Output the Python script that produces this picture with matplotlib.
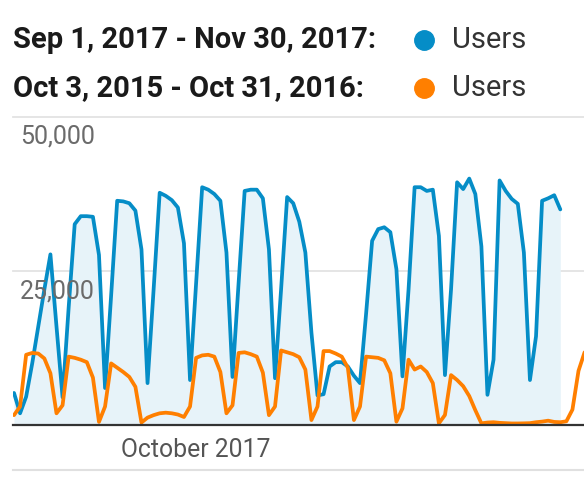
#!/usr/bin/env python3
"""Users per day, Sep-Nov 2017 against Oct 2015 onwards (Analytics style line chart)."""

import numpy as np
import matplotlib
matplotlib.use("Agg")
import matplotlib.pyplot as plt
from matplotlib.lines import Line2D

# --- data -------------------------------------------------------------
current_label = "Sep 1, 2017 - Nov 30, 2017:"
previous_label = "Oct 3, 2015 - Oct 31, 2016:"
metric_name = "Users"

# daily users, Sep 1 2017 .. Nov 30 2017
users_current = [
    5200, 1900, 4600, 10000, 16000, 22000, 27700, 16000, 4500, 19000,
    32600, 33900, 33900, 33800, 27600, 6000, 21000, 36400, 36300, 36000,
    34800, 28500, 6800, 22000, 37700, 37200, 36500, 35300, 29500, 7300,
    23000, 38600, 38200, 37500, 36400, 28000, 7800, 23000, 38000, 38200,
    38200, 36800, 28500, 7600, 22000, 37000, 36000, 33000, 28000, 15000,
    4800, 5000, 9500, 10200, 10200, 9500, 8000, 6800, 18000, 29900,
    31800, 32100, 31300, 25300, 7900, 22000, 38600, 38600, 38000, 38200,
    30700, 8100, 22000, 39400, 38300, 40000, 37500, 29000, 4900, 10600,
    39700, 38000, 36700, 35900, 28000, 7300, 14400, 36400, 36800, 37300,
    35000,
]

# daily users from Oct 3 2015 (only the first days fall inside the view)
users_previous = [
    1600, 3000, 11400, 11700, 11600, 10800, 8400, 1900, 3200, 11100,
    10900, 10600, 10200, 7700, 500, 3000, 10000, 9300, 8600, 7800,
    6200, 400, 1200, 1600, 1900, 2000, 1900, 1700, 1300, 3000,
    10900, 11300, 11400, 11100, 8600, 1900, 3200, 11700, 11800, 11500,
    11100, 8500, 1600, 3000, 12100, 11800, 11500, 11000, 9000, 800,
    3000, 12000, 12000, 11600, 11100, 9300, 800, 3000, 11100, 11000,
    10900, 10500, 8400, 540, 2700, 10600, 9000, 9500, 8600, 6800,
    270, 1630, 8100, 7300, 6300, 4700, 2400, 270, 400, 450,
    350, 300, 250, 250, 270, 300, 450, 550, 700, 500,
    450, 600, 2500, 8800, 11800,
]

y_ticks = [25000, 50000]
y_tick_labels = ["25,000", "50,000"]
x_tick_day = 30
x_tick_label = "October 2017"

# --- style ------------------------------------------------------------
BLUE = "#058DC7"
ORANGE = "#FF7F00"
FILL = "#E7F3F9"
GRID = "#E3E3E3"
TICK_TXT = "#6B6B6B"

plt.rcParams["font.family"] = ["Roboto", "DejaVu Sans"]

W, H = 584, 480
fig = plt.figure(figsize=(W / 100, H / 100), dpi=100)

# axes frame in pixels: left 13, right 584, baseline y=425, 50k at y=117
ax = fig.add_axes([13 / W, (H - 425) / H, (W - 13) / W, (425 - 117) / H])
ax.set_facecolor("none")
for sp in ax.spines.values():
    sp.set_visible(False)

day_cur = np.arange(len(users_current))
day_prev = np.arange(len(users_previous))

ax.fill_between(day_cur, users_current, 0, color=FILL, lw=0, zorder=1)
for yt in y_ticks:
    ax.axhline(yt, color=GRID, lw=1.3, zorder=0.5, clip_on=False)
ax.plot(day_cur, users_current, color=BLUE, lw=2.7,
        solid_joinstyle="round", solid_capstyle="round", zorder=3)
ax.plot(day_prev, users_previous, color=ORANGE, lw=2.7,
        solid_joinstyle="round", solid_capstyle="round", zorder=4)
ax.axhline(0, color="#333333", lw=1.6, zorder=5, clip_on=False)

px_per_day = 6.07
ax.set_xlim(-1 / px_per_day, (W - 14) / px_per_day)
ax.set_ylim(0, 50000)
ax.set_xticks([])
ax.set_yticks([])

for yt, lab in zip(y_ticks, y_tick_labels):
    ax.annotate(lab, xy=(0, yt), xycoords=("axes fraction", "data"),
                xytext=(7, -20), textcoords="offset pixels",
                ha="left", va="center", fontsize=18, color=TICK_TXT,
                zorder=6)

ax.annotate(x_tick_label, xy=(x_tick_day, 0), xycoords="data",
            xytext=(0, -25), textcoords="offset pixels",
            ha="center", va="center", fontsize=17.8, color="#555555",
            annotation_clip=False)

# bottom separator line
fig.add_artist(Line2D([13 / W, 1], [(H - 470) / H] * 2, color="#E0E0E0",
                      lw=1.5, transform=fig.transFigure))

# legend rows
rows = [(current_label, BLUE, 40), (previous_label, ORANGE, 88)]
for label, col, ypx in rows:
    yf = (H - ypx) / H
    fig.text(13 / W, yf, label, ha="left", va="center", fontsize=21,
             fontweight="bold", color="#1A1A1A")
    fig.add_artist(Line2D([424 / W], [yf], marker="o", markersize=14,
                          color=col, transform=fig.transFigure))
    fig.text(452 / W, yf, metric_name, ha="left", va="center", fontsize=21,
             color="#333333")

fig.savefig("out.png", dpi=100)
